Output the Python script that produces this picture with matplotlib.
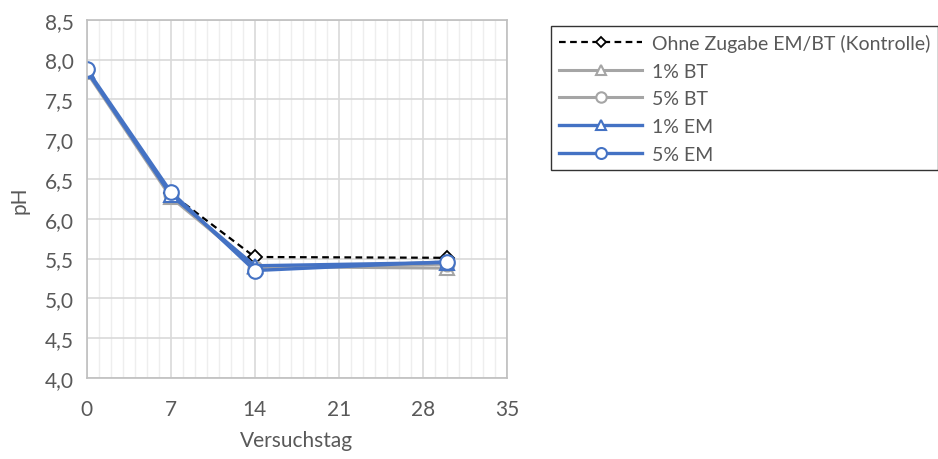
import matplotlib
matplotlib.use('Agg')
import matplotlib.pyplot as plt
from matplotlib.ticker import MultipleLocator, FuncFormatter

plt.rcParams['font.family'] = ['Lato', 'DejaVu Sans']

days = [0, 7, 14, 30]
kontrolle = [7.87, 6.32, 5.52, 5.51]
bt_1 = [7.84, 6.27, 5.40, 5.38]
bt_5 = [7.87, 6.30, 5.38, 5.43]
em_1 = [7.86, 6.30, 5.41, 5.45]
em_5 = [7.88, 6.34, 5.35, 5.46]

labels = ["Ohne Zugabe EM/BT (Kontrolle)", "1% BT", "5% BT", "1% EM", "5% EM"]

text_col = "#595959"
gray = "#a5a5a5"
blue = "#4472c4"

fig = plt.figure(figsize=(9.38, 4.6), dpi=100)
ax = fig.add_axes([0.0924, 0.176, 0.448, 0.779])

ax.plot(days, kontrolle, "--", color="black", lw=1.6, marker="D", ms=7,
        mfc="white", mec="black", mew=1.3, label=labels[0], dashes=(3, 2))
ax.plot(days, bt_1, "-", color=gray, lw=2.2, marker="^", ms=10,
        mfc="white", mec=gray, mew=1.5, label=labels[1])
ax.plot(days, bt_5, "-", color=gray, lw=2.2, marker="o", ms=10,
        mfc="white", mec=gray, mew=1.5, label=labels[2])
ax.plot(days, em_1, "-", color=blue, lw=2.4, marker="^", ms=10,
        mfc="white", mec=blue, mew=1.5, label=labels[3])
ax.plot(days, em_5, "-", color=blue, lw=2.4, marker="o", ms=10.5,
        mfc="white", mec=blue, mew=1.5, label=labels[4])

ax.set_xlim(0, 35)
ax.set_ylim(4.0, 8.5)
ax.xaxis.set_major_locator(MultipleLocator(7))
ax.xaxis.set_minor_locator(MultipleLocator(1))
ax.yaxis.set_major_locator(MultipleLocator(0.5))
ax.yaxis.set_major_formatter(FuncFormatter(lambda v, p: f"{v:.1f}".replace(".", ",")))

ax.grid(which="major", color="#d9d9d9", lw=1.2)
ax.grid(which="minor", axis="x", color="#eeeeee", lw=1.0)
ax.set_axisbelow(True)
for s in ax.spines.values():
    s.set_color("#bfbfbf")
    s.set_linewidth(1.2)
ax.tick_params(which="both", length=0, labelsize=15, colors=text_col)
ax.tick_params(axis="x", pad=15)
ax.tick_params(axis="y", pad=9)

ax.set_xlabel("Versuchstag", fontsize=15, color=text_col, labelpad=8)
ax.set_ylabel("pH", fontsize=15, color=text_col, labelpad=11)

leg = fig.legend(loc="upper left", bbox_to_anchor=(551 / 938, 1 - 27 / 460),
                 borderaxespad=0, fontsize=14, frameon=True, fancybox=False,
                 handlelength=4.3, labelspacing=0.55, borderpad=0.4,
                 handletextpad=0.5, markerscale=0.75)
leg.get_frame().set_edgecolor("black")
leg.get_frame().set_linewidth(1.0)
for t in leg.get_texts():
    t.set_color(text_col)

fig.savefig("out.png", dpi=100)
